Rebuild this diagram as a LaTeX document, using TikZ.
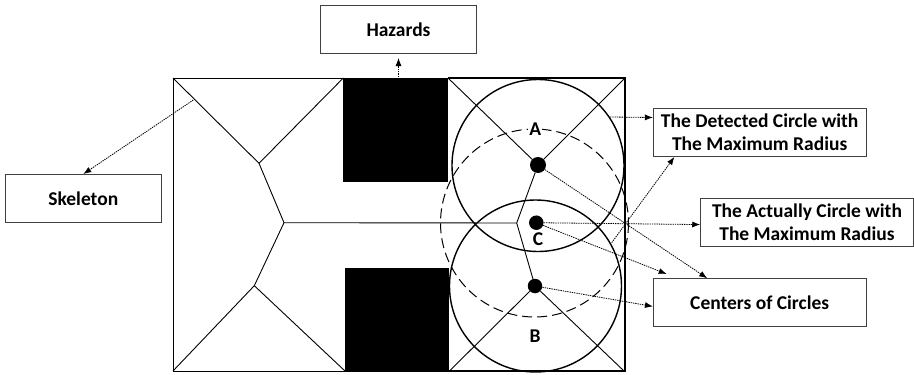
\documentclass[tikz,border=0pt]{standalone}
\usepackage{fontspec}
\setmainfont{Carlito}
\usetikzlibrary{arrows.meta}
\tikzset{
  labelbox/.style={draw=black!75, line width=0.9pt, fill=white, align=center, font=\fontsize{19.5}{23}\selectfont\bfseries, minimum width=212.6pt, minimum height=48pt, inner sep=0pt},
  centerdot/.style={circle, fill=black, inner sep=0pt, minimum size=16pt},
  letter/.style={font=\fontsize{19.5}{20}\selectfont\bfseries, inner sep=1pt},
  skel/.style={line width=0.9pt},
  pointer/.style={-{Latex[length=8pt,width=6pt]}, dash pattern=on 1.4pt off 0.9pt, line width=0.8pt}
}
\begin{document}
\begin{tikzpicture}[x=1pt,y=-1pt]
  \useasboundingbox (0,0) rectangle (914,375);

  % Hazards
  \fill[black] (343.3,78) rectangle (447.7,181.7);
  \fill[black] (345,268.3) rectangle (449.3,371);

  % Room
  \draw[line width=1pt] (173,78) rectangle (625,371);
  \draw[line width=1.6pt] (448,78) -- (625,78) -- (625,371) -- (449,371);

  % Circles
  \draw[line width=1.4pt] (538,165.5) circle (86);
  \draw[line width=1.4pt] (535.5,286) circle (86);
  \draw[line width=1pt, dash pattern=on 10pt off 5pt] (534.5,223) circle (94);

  \node[centerdot] (dotA) at (538,165) {};
  \node[centerdot, minimum size=14.5pt] (dotB) at (535,286) {};
  \node[centerdot, minimum size=14.5pt] (dotC) at (536.3,222.7) {};

  % Skeleton
  \coordinate (jointTop) at (259,163.3);
  \coordinate (jointMid) at (284,222.7);
  \coordinate (jointBot) at (254.3,285.7);
  \coordinate (jointRight) at (516.7,223);
  \draw[skel] (173,78) -- (jointTop) -- (343.3,78);
  \draw[skel] (jointTop) -- (jointMid) -- (jointBot);
  \draw[skel] (173,371) -- (jointBot) -- (345,371);
  \draw[skel] (jointMid) -- (jointRight);
  \draw[skel] (448,78) -- (dotA);
  \draw[skel] (625,78) -- (dotA);
  \draw[skel] (dotA) -- (jointRight) -- (dotB);
  \draw[skel] (dotB) -- (449.5,371);
  \draw[skel] (dotB) -- (624,371);

  % Letters
  \node[letter, fill=white] (letterA) at (535.3,129.3) {A};
  \node[letter] (letterB) at (535,336) {B};
  \node[letter] (letterC) at (538,239) {C};

  % Boxes
  \node[labelbox, minimum width=155.5pt] (hazards) at (398.5,29.3) {Hazards};
  \node[labelbox, minimum width=156pt] (skeleton) at (83.3,198.5) {Skeleton};
  \node[labelbox] (detected) at (759.7,132.5) {The Detected Circle with\\The Maximum Radius};
  \node[labelbox] (actual) at (807,222.7) {The Actually Circle with\\The Maximum Radius};
  \node[labelbox] (centers) at (759.7,302.7) {Centers of Circles};

  % Arrows
  \coordinate (hazardsFrom) at (398.5,77);
  \coordinate (hazardsTo) at (398.5,58);
  \coordinate (skeletonFrom) at (193.3,100);
  \coordinate (circleAFrom) at (610,117);
  \coordinate (circleBFrom) at (611.7,242.7);
  \coordinate (centersNear) at (666.7,274);

  \draw[pointer] (hazardsFrom) -- (hazardsTo);
  \draw[pointer] (skeletonFrom) -- (skeleton.north);
  \draw[pointer] (circleAFrom) -- (detected.172);
  \draw[pointer] (circleBFrom) -- (detected.196);
  \draw[pointer] (dotC) -- (actual.181);
  \draw[pointer] (dotA) -- (centers.155);
  \draw[pointer] (dotC) -- (centersNear);
  \draw[pointer] (dotB) -- (centers.182);
\end{tikzpicture}
\end{document}
